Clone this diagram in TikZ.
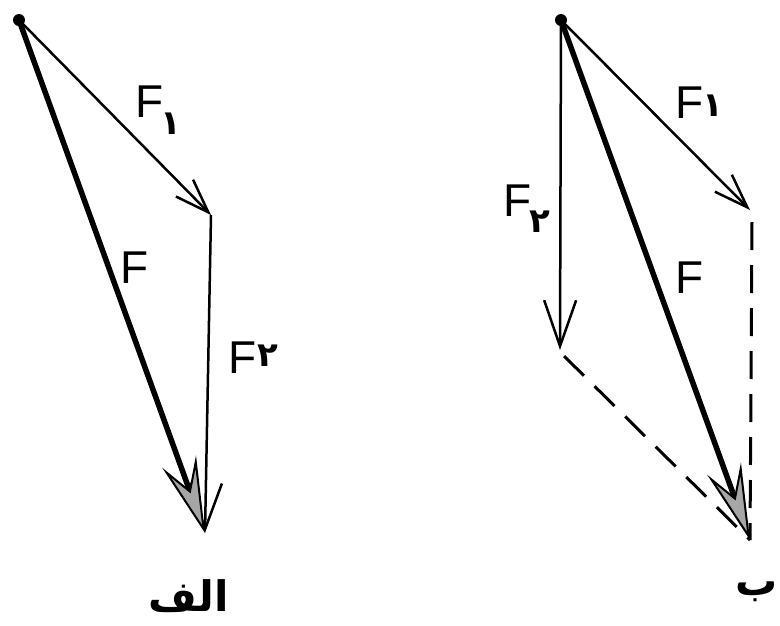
\documentclass[tikz,border=0pt]{standalone}
\usepackage{fontspec}
\setmainfont{Liberation Sans}
\newfontfamily\arabicfont[Script=Arabic]{DejaVu Sans}
\TeXXeTstate=1
\usetikzlibrary{arrows.meta}
\begin{document}
\begin{tikzpicture}[x=1pt,y=-1pt,
  vec/.style={line width=2.5pt, -{Straight Barb[length=34pt,width=24pt,line width=2.5pt]}},
  vecb/.style={line width=2.5pt, -{Straight Barb[length=46pt,width=32pt,line width=2.5pt]}},
  res/.style={line width=5.5pt, -{Stealth[length=76pt,width=36pt,inset=30pt,line width=2pt,fill=black!35]}},
  guide/.style={line width=3pt, dash pattern=on 28pt off 15pt},
  lbl/.style={font=\fontsize{46}{46}\selectfont, inner sep=0pt},
  dig/.style={font=\arabicfont\bfseries\fontsize{34}{34}\selectfont, inner sep=0pt},
  captext/.style={font=\arabicfont\bfseries\fontsize{42}{48}\selectfont, inner sep=0pt},
  dotpt/.style={circle, fill=black, inner sep=0pt, minimum size=12pt}
]
\useasboundingbox (0,0) rectangle (780,625);

% ---------- left figure (alef) ----------
\node[dotpt] (O1) at (19,20) {};
\coordinate (A1) at (211,215);
\coordinate (B1) at (205,533);
\draw[vec] (O1.center) -- (A1);
\draw[vecb] (A1) -- (B1);
\draw[res] (O1.center) -- (B1);
\node[lbl] (f1l) at (150,102) {F};
\node[dig] (d1l) at (171,124) {۱};
\node[lbl] (fl) at (135,268) {F};
\node[lbl] (f2l) at (243,358) {F};
\node[dig] (d2l) at (268,356) {۲};
\node[captext] (alef) at (189,596) {\beginR الف\endR};

% ---------- right figure (be) ----------
\node[dotpt] (O2) at (561,20) {};
\coordinate (A2) at (750,210);
\coordinate (C2) at (560,350);
\coordinate (B2) at (750,540);
\coordinate (A2g) at (752,222);
\coordinate (C2g) at (564,356);
\draw[vec] (O2.center) -- (A2);
\draw[vecb] (O2.center) -- (C2);
\draw[guide] (A2g) -- (B2);
\draw[guide] (C2g) -- (B2);
\draw[res] (O2.center) -- (B2);
\node[lbl] (f1r) at (690,103) {F};
\node[dig] (d1r) at (713,106) {۱};
\node[lbl] (fr) at (690,278) {F};
\node[lbl] (f2r) at (518,201) {F};
\node[dig] (d2r) at (540,222) {۲};
\node[captext, anchor=east] (be) at (778,592) {\beginR ب\endR};
\end{tikzpicture}
\end{document}
